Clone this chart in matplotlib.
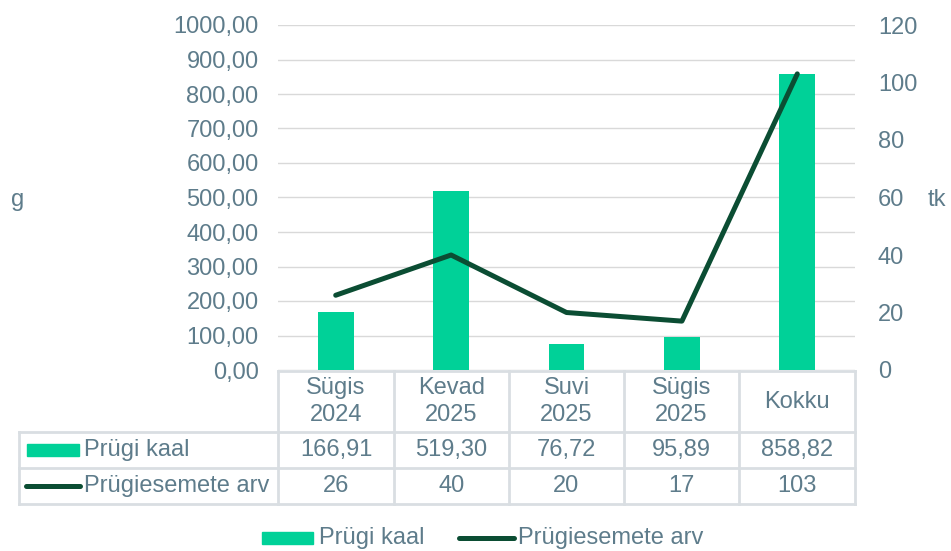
import matplotlib.pyplot as plt
from matplotlib.lines import Line2D
from matplotlib.patches import Rectangle

categories = ["Sügis\n2024", "Kevad\n2025", "Suvi\n2025", "Sügis\n2025", "Kokku"]
weight_g = [166.91, 519.30, 76.72, 95.89, 858.82]
item_count = [26, 40, 20, 17, 103]
weight_name = "Prügi kaal"
count_name = "Prügiesemete arv"

BAR = "#00D198"
LINE = "#0B4D33"
TXT = "#5E7C8B"
GRID = "#D9D9D9"
TBL = "#D9DEE2"
FS = 17

W, H = 951, 551
plt.rcParams['font.family'] = ['Liberation Sans', 'DejaVu Sans']
fig = plt.figure(figsize=(W / 100, H / 100), dpi=100)


def fx(px):
    return px / W


def fy(py):
    return 1 - py / H


# chart area
left, right, top, bottom = 278, 855, 25, 370
ax = fig.add_axes([fx(left), fy(bottom), fx(right - left), fy(top) - fy(bottom)])
x = list(range(len(categories)))
ax.bar(x, weight_g, width=0.31, color=BAR, zorder=3)
ax.set_xlim(-0.5, len(categories) - 0.5)
ax.set_ylim(0, 1000)
ax.set_yticks(range(0, 1001, 100))
ax.set_yticklabels([f"{v:.2f}".replace(".", ",") for v in range(0, 1001, 100)])
ax.yaxis.grid(True, color=GRID, linewidth=1)
ax.set_axisbelow(True)
ax.set_xticks([])
for s in ax.spines.values():
    s.set_visible(False)
ax.tick_params(axis='y', length=0, pad=14, labelsize=FS, labelcolor=TXT)

ax2 = ax.twinx()
ax2.plot(x, item_count, color=LINE, linewidth=3.6, solid_capstyle='round', zorder=4)
ax2.set_ylim(0, 120)
ax2.set_yticks(range(0, 121, 20))
for s in ax2.spines.values():
    s.set_visible(False)
ax2.tick_params(axis='y', length=0, pad=16.5, labelsize=FS, labelcolor=TXT)

fig.text(fx(18), fy(200), "g", fontsize=FS, color=TXT, ha='center', va='center')
fig.text(fx(937), fy(200), "tk", fontsize=FS, color=TXT, ha='center', va='center')

# data table under the chart
col_edges = [278, 394, 509, 624, 739, 855]
row_edges = [371, 432, 468, 504]
lab_left = 19


def hline(x0, x1, y):
    fig.add_artist(Line2D([fx(x0), fx(x1)], [fy(y), fy(y)], color=TBL, linewidth=2))


def vline(xp, y0, y1):
    fig.add_artist(Line2D([fx(xp), fx(xp)], [fy(y0), fy(y1)], color=TBL, linewidth=2))


hline(col_edges[0], col_edges[-1], row_edges[0])
for y in row_edges[1:]:
    hline(lab_left, col_edges[-1], y)
for xp in col_edges:
    vline(xp, row_edges[0], row_edges[-1])
vline(lab_left, row_edges[1], row_edges[-1])

for i, cat in enumerate(categories):
    cx = (col_edges[i] + col_edges[i + 1]) / 2
    fig.text(fx(cx), fy((row_edges[0] + row_edges[1]) / 2), cat, fontsize=FS, color=TXT,
             ha='center', va='center', linespacing=1.25)
    fig.text(fx(cx), fy((row_edges[1] + row_edges[2]) / 2), f"{weight_g[i]:.2f}".replace(".", ","),
             fontsize=FS, color=TXT, ha='center', va='center')
    fig.text(fx(cx), fy((row_edges[2] + row_edges[3]) / 2), str(item_count[i]),
             fontsize=FS, color=TXT, ha='center', va='center')

# row labels with keys
y1 = (row_edges[1] + row_edges[2]) / 2
fig.add_artist(Rectangle((fx(27), fy(y1 + 6)), fx(52), fy(y1 - 6) - fy(y1 + 6), color=BAR))
fig.text(fx(84), fy(y1), weight_name, fontsize=FS, color=TXT, ha='left', va='center')
y2 = (row_edges[2] + row_edges[3]) / 2
fig.add_artist(Line2D([fx(26), fx(80)], [fy(y2), fy(y2)], color=LINE, linewidth=3.6,
                      solid_capstyle='round'))
fig.text(fx(84), fy(y2), count_name, fontsize=FS, color=TXT, ha='left', va='center')

# bottom legend
yl = 538
fig.add_artist(Rectangle((fx(262), fy(yl + 6)), fx(51), fy(yl - 6) - fy(yl + 6), color=BAR))
fig.text(fx(319), fy(yl), weight_name, fontsize=FS, color=TXT, ha='left', va='center')
fig.add_artist(Line2D([fx(459), fx(514)], [fy(yl), fy(yl)], color=LINE, linewidth=3.6,
                      solid_capstyle='round'))
fig.text(fx(518), fy(yl), count_name, fontsize=FS, color=TXT, ha='left', va='center')

fig.savefig("out.png", dpi=100)
